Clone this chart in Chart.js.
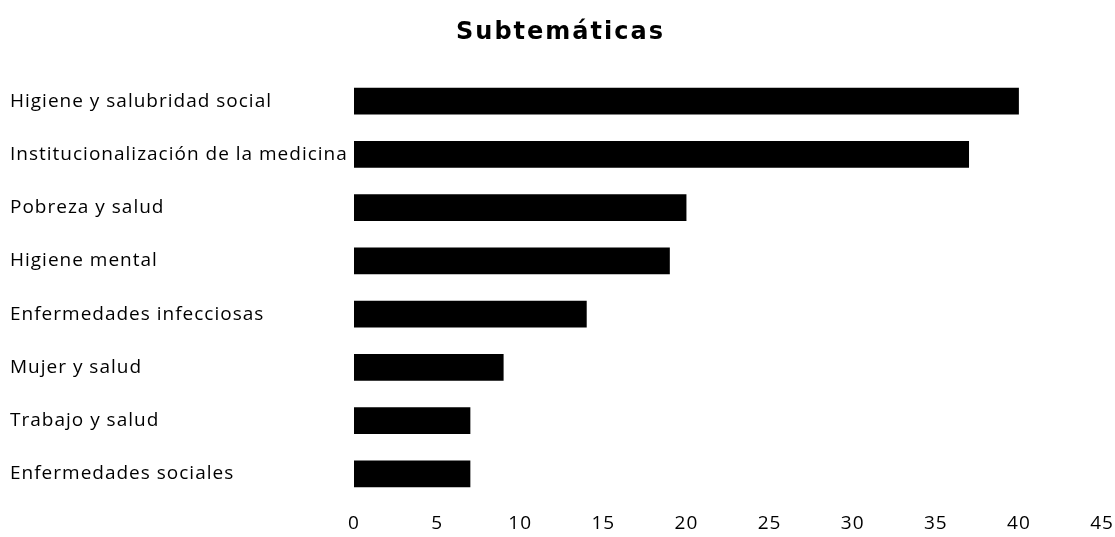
<!DOCTYPE html>
<html>
<head>
<meta charset="utf-8">
<script src="https://cdn.jsdelivr.net/npm/chart.js@4/dist/chart.umd.min.js"></script>
<style>
  html, body { margin: 0; padding: 0; background: #fff; }
  #wrap { width: 1115px; height: 537px; }
</style>
</head>
<body>
<div id="wrap"><canvas id="c" width="1115" height="537"></canvas></div>
<script>
const chartTitle = 'Subtemáticas';
const categories = [
  "Higiene y salubridad social",
  "Institucionalización de la medicina",
  "Pobreza y salud",
  "Higiene mental",
  "Enfermedades infecciosas",
  "Mujer y salud",
  "Trabajo y salud",
  "Enfermedades sociales"
];
const counts = [40, 37, 20, 19, 14, 9, 7, 7];
const xTicks = [0, 5, 10, 15, 20, 25, 30, 35, 40, 45];

const labelFont = { family: "'Open Sans', sans-serif", size: 19 };

// Slightly spaced axis text, plus a spaced-out bold heading centred above the plot
const spacedText = {
  id: 'spacedText',
  beforeDraw(chart) {
    chart.ctx.letterSpacing = '1px';
  },
  afterDraw(chart) {
    const ctx = chart.ctx;
    ctx.save();
    ctx.font = "bold 24px 'DejaVu Sans', sans-serif";
    ctx.letterSpacing = '2px';
    ctx.fillStyle = '#000';
    ctx.textAlign = 'center';
    ctx.textBaseline = 'middle';
    ctx.fillText(chartTitle, chart.width / 2 + 3, 33);
    ctx.restore();
    ctx.letterSpacing = '0px';
  }
};

new Chart(document.getElementById('c'), {
  type: 'bar',
  data: {
    labels: categories,
    datasets: [{
      data: counts,
      backgroundColor: '#000',
      borderWidth: 0,
      barPercentage: 0.5,
      categoryPercentage: 1.0
    }]
  },
  options: {
    indexAxis: 'y',
    responsive: false,
    animation: false,
    devicePixelRatio: 1,
    layout: { padding: { left: 10, right: 13, top: 74.5, bottom: 0 } },
    plugins: {
      legend: { display: false },
      tooltip: { enabled: false },
      title: { display: false }
    },
    scales: {
      x: {
        min: 0,
        max: 45,
        afterBuildTicks: s => { s.ticks = xTicks.map(v => ({ value: v })); },
        grid: { display: false, drawTicks: false },
        border: { display: false },
        ticks: { color: '#000', font: labelFont, padding: 12, maxRotation: 0 },
        afterFit: s => { s.height = 36.5; s.paddingLeft = 0; s.paddingRight = 0; }
      },
      y: {
        grid: { display: false, drawTicks: false },
        border: { display: false },
        ticks: { color: '#000', font: labelFont, crossAlign: 'far', padding: 0 },
        afterFit: s => { s.width = 344; s.paddingTop = 0; s.paddingBottom = 0; }
      }
    }
  },
  plugins: [spacedText]
});
</script>
</body>
</html>
